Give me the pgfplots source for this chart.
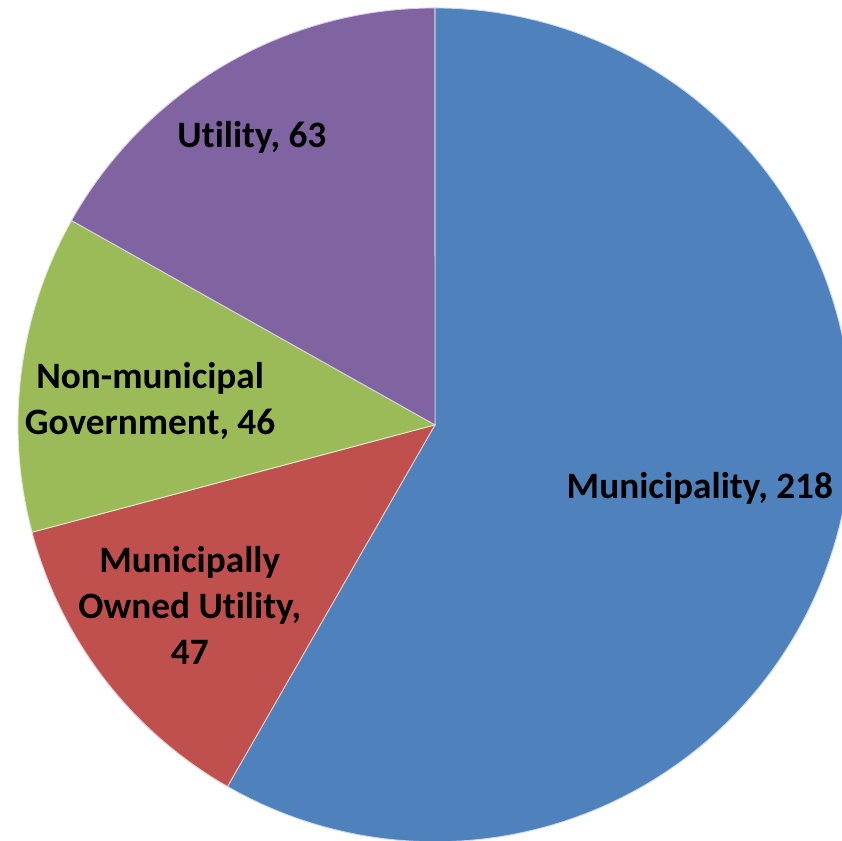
\documentclass[border=0pt]{standalone}
\usepackage{pgfplots}
\pgfplotsset{compat=1.18}
\usepackage{pgfplotstable}
\usepackage{fontspec}
\setmainfont[Ligatures={NoCommon}]{Carlito}
\definecolor{cA}{HTML}{4F81BD}
\definecolor{cB}{HTML}{C0504D}
\definecolor{cC}{HTML}{9BBB59}
\definecolor{cD}{HTML}{8064A2}
\pgfplotstableread[col sep=comma]{
name,value
Municipality,218
Municipally Owned Utility,47
Non-municipal Government,46
Utility,63
}\piedata
\pgfplotstablegetelem{0}{value}\of\piedata\let\vA\pgfplotsretval
\pgfplotstablegetelem{1}{value}\of\piedata\let\vB\pgfplotsretval
\pgfplotstablegetelem{2}{value}\of\piedata\let\vC\pgfplotsretval
\pgfplotstablegetelem{3}{value}\of\piedata\let\vD\pgfplotsretval
\pgfmathsetmacro\tot{\vA+\vB+\vC+\vD}
\pgfmathsetmacro\aO{90}
\pgfmathsetmacro\aA{\aO-360*(\vA/\tot)}
\pgfmathsetmacro\aB{\aA-360*(\vB/\tot)}
\pgfmathsetmacro\aC{\aB-360*(\vC/\tot)}
\pgfmathsetmacro\aD{\aC-360*(\vD/\tot)}
\begin{document}
\begin{tikzpicture}
\begin{axis}[
  scale only axis, width=8.42cm, height=8.41cm,
  xmin=-1.043, xmax=0.976, ymin=-0.998, ymax=1.019,
  hide axis, clip=true,
]
\addplot[fill=cA, draw=white!70!cA, line width=0.25pt, domain=\aA:\aO, samples=120, variable=\t] ({cos(\t)},{sin(\t)}) -- (axis cs:0,0) -- cycle;
\addplot[fill=cB, draw=white!70!cB, line width=0.25pt, domain=\aB:\aA, samples=40, variable=\t] ({cos(\t)},{sin(\t)}) -- (axis cs:0,0) -- cycle;
\addplot[fill=cC, draw=white!70!cC, line width=0.25pt, domain=\aC:\aB, samples=40, variable=\t] ({cos(\t)},{sin(\t)}) -- (axis cs:0,0) -- cycle;
\addplot[fill=cD, draw=white!70!cD, line width=0.25pt, domain=\aD:\aC, samples=40, variable=\t] ({cos(\t)},{sin(\t)}) -- (axis cs:0,0) -- cycle;
\begin{scope}[every node/.style={font=\fontsize{10.6}{13.1}\selectfont\bfseries, align=center, inner sep=0pt}]
\node at (axis cs:0.635,-0.153) {Municipality, 218};
\node at (axis cs:-0.588,-0.432) {Municipally\\Owned Utility,\\47};
\node at (axis cs:-0.683,0.058) {Non-municipal\\Government, 46};
\node at (axis cs:-0.439,0.690) {Utility, 63};
\end{scope}
\end{axis}
\pgfresetboundingbox
\path (current axis.south west) rectangle (current axis.north east);
\end{tikzpicture}
\end{document}
